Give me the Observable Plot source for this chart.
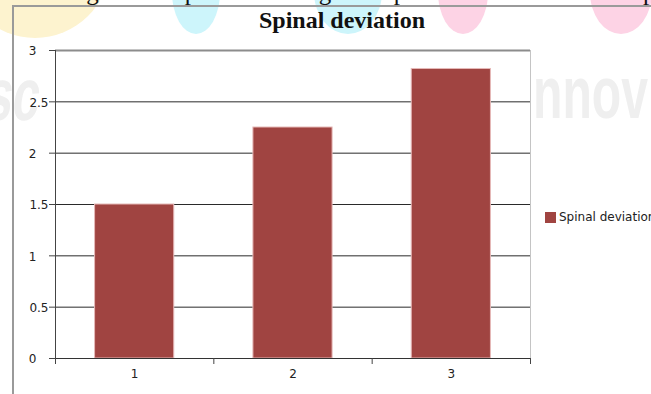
<!DOCTYPE html>
<html>
<head>
<meta charset="utf-8">
<script src="https://cdn.jsdelivr.net/npm/d3@7"></script>
<script src="https://cdn.jsdelivr.net/npm/@observablehq/plot@0.6"></script>
<style>
  html, body { margin: 0; padding: 0; background: #fff; }
  #page { position: relative; width: 651px; height: 394px; overflow: hidden; }
  .blob { position: absolute; border-radius: 50%; z-index: 0; }
  .mark { position: absolute; z-index: 0; font-family: "Liberation Sans", sans-serif; font-weight: bold;
          color: #efefef; font-size: 74px; line-height: 74px; transform-origin: left top; white-space: nowrap; }
  #lead { position: absolute; left: 14px; top: -21px; z-index: 1; font-family: "Liberation Serif", serif;
          font-size: 25px; line-height: 25px; color: #111; white-space: nowrap; }
  #frame { position: absolute; left: 12px; top: 5px; width: 700px; height: 420px; z-index: 1;
           border-left: 2px solid #9a9a9a; border-top: 2px solid #9a9a9a; }
  #title { position: relative; z-index: 2; height: 40px; }
  #title span { position: absolute; left: 342px; top: 8px; transform: translateX(-50%);
                font-family: "Liberation Serif", serif; font-weight: bold; font-size: 24px; line-height: 24px;
                color: #111; white-space: nowrap; }
  #chart { position: relative; z-index: 2; }
  #legend { position: absolute; left: 545px; top: 210px; z-index: 3; display: flex; align-items: center;
            font-family: "DejaVu Sans", sans-serif; font-size: 12px; color: #222; white-space: nowrap; }
  #legend i { display: inline-block; width: 11px; height: 11px; background: #a04441; margin-right: 3px; }
</style>
</head>
<body>
<div id="page">
  <div class="blob" style="left:-40px;top:-112px;width:150px;height:150px;background:#fdf3cf;"></div>
  <div class="blob" style="left:172px;top:-50px;width:48px;height:84px;background:#cdf5fb;"></div>
  <div class="blob" style="left:314px;top:-50px;width:68px;height:84px;background:#cdf5fb;"></div>
  <div class="blob" style="left:438px;top:-50px;width:50px;height:84px;background:#fdd3e5;"></div>
  <div class="blob" style="left:590px;top:-50px;width:62px;height:84px;background:#fdd3e5;"></div>
  <div class="mark" style="left:-8px;top:58px;transform:scaleX(0.65) skewX(-12deg);">sc</div>
  <div class="mark" style="left:533px;top:56px;transform:scaleX(0.65);">nnov</div>
  <div id="lead">showing the comparative changes in spinal deviation at 3 time points</div>
  <div id="frame"></div>
  <div id="title"><span id="titleText"></span></div>
  <div id="chart"></div>
  <div id="legend"><i></i><span id="legendText"></span></div>
</div>
<script>
// Spinal deviation by group
const chartTitle = "Spinal deviation";
const seriesName = "Spinal deviation";
const categories = [1, 2, 3];
const values = [1.5, 2.25, 2.82];
const yTicks = [0, 0.5, 1, 1.5, 2, 2.5, 3];
const xBoundaries = [0.5, 1.5, 2.5, 3.5];

const data = categories.map((c, i) => ({cat: c, value: values[i]}));
const intTicks = yTicks.filter(d => Number.isInteger(d));
const halfTicks = yTicks.filter(d => !Number.isInteger(d));
const innerGrid = yTicks.filter(d => d > 0 && d < 3);

document.getElementById("titleText").textContent = chartTitle;
document.getElementById("legendText").textContent = seriesName;

const barColor = "#a04441";

const chart = Plot.plot({
  width: 651,
  height: 354,
  marginTop: 10,
  marginBottom: 36,
  marginLeft: 55,
  marginRight: 121,
  x: {domain: [0.5, 3.5], axis: null, label: null},
  y: {domain: [0, 3], axis: null, label: null},
  style: {fontFamily: "DejaVu Sans, sans-serif", fontSize: "12px", color: "#222", background: "transparent"},
  marks: [
    // horizontal gridlines
    Plot.ruleY(innerGrid, {stroke: "#2a2a2a", strokeWidth: 1}),
    Plot.ruleY([3], {stroke: "#8c8c8c", strokeWidth: 2}),
    // right edge of the plot area
    Plot.ruleX([3.5], {stroke: "#c4c4c4"}),
    // bars, half a category wide
    Plot.rectY(data, {
      x1: d => d.cat - 0.25,
      x2: d => d.cat + 0.25,
      y: "value",
      fill: barColor,
      stroke: "#e6b9b8",
      strokeWidth: 1
    }),
    // axes lines
    Plot.ruleY([0], {stroke: "#333"}),
    Plot.ruleX([0.5], {stroke: "#444"}),
    // y tick marks and labels
    Plot.axisY(yTicks, {tickSize: 6, tickFormat: () => "", label: null, stroke: "#444"}),
    Plot.text(intTicks, {y: d => d, frameAnchor: "left", textAnchor: "end", dx: -19, dy: 1, text: d => String(d), fill: "#222"}),
    Plot.text(halfTicks, {y: d => d, frameAnchor: "left", textAnchor: "end", dx: -7, dy: 1, text: d => String(d), fill: "#222"}),
    // x tick marks between categories and category labels
    Plot.axisX(xBoundaries, {tickSize: 6, tickFormat: () => "", label: null, stroke: "#444"}),
    Plot.text(categories, {x: d => d, frameAnchor: "bottom", dy: 19, text: d => String(d), fill: "#222"})
  ]
});
document.getElementById("chart").appendChild(chart);
</script>
</body>
</html>
